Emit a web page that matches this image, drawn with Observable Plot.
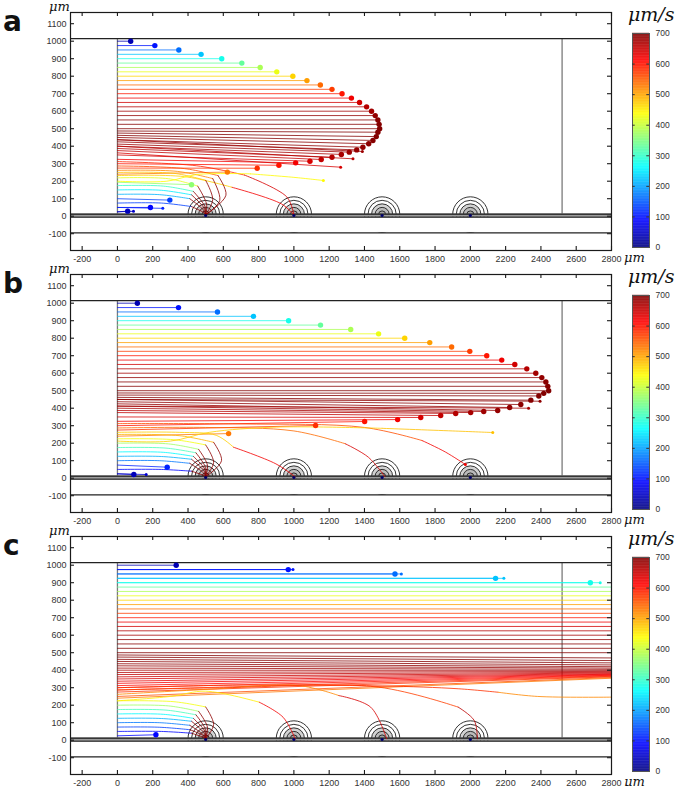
<!DOCTYPE html>
<html><head><meta charset="utf-8">
<script src="https://cdn.jsdelivr.net/npm/d3@7"></script>
<script src="https://cdn.jsdelivr.net/npm/@observablehq/plot@0.6"></script>
<style>
html,body{margin:0;padding:0;background:#fff;}
#root{width:675px;position:relative;}
.panel{position:relative;width:675px;height:262px;}
.panel svg{position:absolute;left:0;top:0;overflow:visible;}
.lbl{position:absolute;font-family:"DejaVu Sans",sans-serif;font-weight:bold;font-size:28px;line-height:1;color:#111;}
.um{position:absolute;font-family:"DejaVu Serif",serif;font-style:italic;font-size:13px;line-height:1;color:#111;white-space:nowrap;}
.ums{position:absolute;font-family:"DejaVu Serif",serif;font-style:italic;font-size:19px;line-height:1;color:#111;white-space:nowrap;}
</style></head><body><div id="root"></div>
<script>
// ---------- axes / labels ----------
const xTicks = [-200,0,200,400,600,800,1000,1200,1400,1600,1800,2000,2200,2400,2600,2800];
const yTicks = [-100,0,100,200,300,400,500,600,700,800,900,1000,1100];
const speedTicks = [0,100,200,300,400,500,600,700];
const panelLetters = ["a","b","c"];
// ---------- geometry of the device ----------
const electrodeX = [500,1000,1500,2000];
const ringR = [100,80,60,40,20];
const ringFill = ["#ffffff","#ffffff","#d2d2d2","#bababa","#a2a2a2"];
const channelTop = 1015, wallTop = 12, wallBottom = -5, lowerLine = -95, outletX = 2520;

// ---------- straight (unperturbed) trajectories, shared start heights ----------
const flatY0 = [1000,975,950,925,900,875,850,825,800,775,750,725,700,675,650,625,600,575,550,525,500];
const flatV  = [35,100,163,222,277,331,380,424,467,504,540,571,598,622,644,663,676,686,693,696,698];
const aFlatXe = [75,212,348,474,591,705,809,903,994,1074,1150,1216,1273,1326,1372,1412,1440,1461,1476,1483,1486];
const bFlatXe = [113,346,567,771,970,1151,1322,1480,1628,1770,1894,1997,2093,2178,2252,2320,2371,2405,2428,2439,2444];
const cFlatXe = [333,968,1573,2143,2680,2800,2800,2800,2800,2800,2800,2800,2800,2800,2800,2800,2800,2800,2800,2800,2800];
const aFlatDot = [2,2,2,2,2,2,2,2,2,2,2,2,2,2,2,2,2,2,2,2,2];
const bFlatDot = [2,2,2,2,2,2,2,2,2,2,2,2,2,2,2,2,2,2,2,2,2];
const cFlatDot = [2,2,2,2,2,0,0,0,0,0,0,0,0,0,0,0,0,0,0,0,0];

// ---------- deflected trajectories (start y, end x, end y, speed, end marker) ----------
const aSlopeY0 = [487,475,462,450,437,425,412,400,387,375,350,325,300,275,240, 437,400,362, 25,25,50,50,100,194];
const aSlopeXe = [1476,1467,1448,1424,1391,1356,1314,1269,1216,1155,1091,1010,915,792,623, 1388,1335,1265, 58,91,187,257,297,420];
const aSlopeYe = [480,455,433,414,394,379,366,353,337,324,314,305,291,274,252, 370,328,280, 29,28,50,45,92,180];
const aSlopeV  = [698,697,695,692,688,684,678,672,664,655,640,620,600,580,530, 680,660,640, 40,50,90,110,130,360];
const aSlopeDot= [2,2,2,2,2,2,2,2,2,2,2,2,2,2,2, 1,1,1, 2,1,2,1,2,2];

const bSlopeY0 = [487,475,462,450,437,425,412,400,387,375,350,325,300,275,240, 450,412, 25,25,75];
const bSlopeXe = [2416,2388,2343,2286,2223,2155,2076,2002,1917,1832,1719,1588,1401,1123,630, 2395,2330, 93,163,282];
const bSlopeYe = [485,470,446,421,404,387,381,375,370,358,347,335,324,301,255, 440,400, 21,21,63];
const bSlopeV  = [698,697,695,692,688,684,678,672,664,655,640,620,600,580,530, 690,675, 40,55,110];
const bSlopeDot= [2,2,2,2,2,2,2,2,2,2,2,2,2,2,2, 1,1, 2,1,2];

const cSlopeY0 = [487,475,462,450,437,425,412,400,387,375,362,350,337,325,312,300,287,275,250,240, 975,950,925,900, 25];
const cSlopeXe = [2800,2800,2800,2800,2800,2800,2800,2800,2800,2800,2800,2800,2800,2800,2800,2800,2800,2800,2800,2800, 995,1609,2190,2736, 218];
const cSlopeYe = [470,455,442,430,420,412,405,399,393,388,384,380,377,374,371,368,365,362,358,354, 975,950,925,900, 31];
const cSlopeV  = [698,697,695,692,688,684,678,672,664,655,648,640,630,620,610,600,590,580,560,530, 100,163,222,277, 90];
const cSlopeDot= [0,0,0,0,0,0,0,0,0,0,0,0,0,0,0,0,0,0,0,0, 1,1,1,1, 2];

// ---------- curved trajectories (x,y waypoints) ----------
const aCurves = [
  [0,75, 250,75, 420,55, 490,20, 500,8],
  [0,125, 240,123, 410,100, 488,35, 500,8],
  [0,150, 250,148, 420,122, 492,45, 500,8],
  [0,175, 260,172, 430,142, 496,55, 500,8],
  [0,219, 290,214, 455,172, 505,70, 500,8],
  [0,250, 320,245, 500,205, 540,95, 500,8],
  [0,262, 340,256, 540,215, 580,90, 500,8],
  [0,287, 380,272, 570,232, 615,120, 500,8],
  [0,312, 450,288, 720,235, 960,110, 1000,8],
  [0,232, 380,226, 650,165, 930,70, 1000,8],
  [0,200, 280,200, 450,238, 754,242, 1000,222, 1167,204]
];
const aCurveV  = [130,210,250,300,420,480,520,560,590,470,440];
const aCurveVe = [690,690,690,690,690,690,690,690,640,620,440];
const aCurveDot= [0,0,0,0,0,0,0,0,0,0,1];

const bCurves = [
  [0,50, 250,50, 420,40, 490,15, 500,8],
  [0,100, 240,100, 410,85, 488,30, 500,8],
  [0,125, 250,124, 420,108, 492,40, 500,8],
  [0,150, 260,148, 430,125, 496,50, 500,8],
  [0,175, 275,172, 445,145, 500,60, 500,8],
  [0,200, 290,196, 460,165, 510,75, 500,8],
  [0,225, 320,220, 500,190, 545,90, 500,8],
  [0,250, 350,243, 545,205, 590,100, 500,8],
  [0,262, 350,262, 560,245, 658,177, 898,82, 1007,8],
  [0,287, 500,290, 1000,270, 1291,197, 1422,120, 1516,8],
  [0,312, 700,310, 1400,290, 1727,215, 1858,150, 1972,78],
  [0,212, 300,212, 520,262, 900,292, 1500,285, 1900,270, 2127,261]
];
const bCurveV  = [90,170,210,260,310,370,430,490,470,540,560,470];
const bCurveVe = [690,690,690,690,690,690,690,690,620,640,620,480];
const bCurveDot= [0,0,0,0,0,0,0,0,0,0,1,1];

const cCurves = [
  [0,50, 250,50, 420,40, 490,15, 500,8],
  [0,75, 240,74, 410,60, 488,25, 500,8],
  [0,100, 240,100, 410,85, 488,30, 500,8],
  [0,125, 250,124, 420,108, 492,40, 500,8],
  [0,150, 260,148, 430,125, 496,50, 500,8],
  [0,175, 275,172, 445,145, 500,60, 500,8],
  [0,200, 290,196, 460,165, 510,75, 500,8],
  [0,225, 320,220, 500,190, 545,90, 500,8],
  [0,225, 300,250, 500,280, 804,217, 939,131, 1007,8],
  [0,262, 500,290, 1029,312, 1255,255, 1435,189, 1526,8],
  [0,287, 600,300, 1481,303, 1931,189, 2022,113, 2040,8],
  [0,300, 700,315, 1500,310, 1931,294, 2157,274, 2382,250, 2800,246]
];
const cCurveV  = [90,130,170,210,260,310,370,430,450,520,570,580];
const cCurveVe = [690,690,690,690,690,690,690,690,620,640,660,520];
const cCurveDot= [0,0,0,0,0,0,0,0,0,0,0,0];

// ---------- jet colour map ----------
const jet = d3.scaleLinear()
  .domain([0,87.5,262.5,437.5,612.5,700])
  .range(["#00007f","#0000ff","#00ffff","#ffff00","#ff0000","#7f0000"])
  .clamp(true);

const panels = [
  {flatXe:aFlatXe, flatDot:aFlatDot, y0:aSlopeY0, xe:aSlopeXe, ye:aSlopeYe, v:aSlopeV, dot:aSlopeDot, curves:aCurves, cv:aCurveV, cve:aCurveVe, cdot:aCurveDot},
  {flatXe:bFlatXe, flatDot:bFlatDot, y0:bSlopeY0, xe:bSlopeXe, ye:bSlopeYe, v:bSlopeV, dot:bSlopeDot, curves:bCurves, cv:bCurveV, cve:bCurveVe, cdot:bCurveDot},
  {flatXe:cFlatXe, flatDot:cFlatDot, y0:cSlopeY0, xe:cSlopeXe, ye:cSlopeYe, v:cSlopeV, dot:cSlopeDot, curves:cCurves, cv:cCurveV, cve:cCurveVe, cdot:cCurveDot}
];

const W = 675, H = 262, ML = 70, MR = 64, MT = 12, MB = 12;
const XD = [-266, 2800], YD = [-196, 1164];
const kx = (W - ML - MR) / (XD[1] - XD[0]);
const ky = (H - MT - MB) / (YD[1] - YD[0]);
const tickUX = 4 / ky, tickUY = 4 / kx;
const BIG = 2.7, SMALL = 1.5;

function drawPanel(p, letter) {
  const straight = [], dots = [], part1 = [], part2 = [];
  flatY0.forEach((y0, i) => {
    const c = jet(flatV[i]);
    straight.push({id: "f" + i, x: 0, y: y0, c}, {id: "f" + i, x: p.flatXe[i], y: y0, c});
    if (p.flatDot[i]) dots.push({x: p.flatXe[i], y: y0, c, r: p.flatDot[i] === 2 ? BIG : SMALL});
  });
  p.y0.forEach((y0, i) => {
    const c = jet(p.v[i]);
    straight.push({id: "s" + i, x: 0, y: y0, c}, {id: "s" + i, x: p.xe[i], y: p.ye[i], c});
    if (p.dot[i]) dots.push({x: p.xe[i], y: p.ye[i], c, r: p.dot[i] === 2 ? BIG : SMALL});
  });
  p.curves.forEach((arr, i) => {
    const pts = [];
    for (let k = 0; k < arr.length; k += 2) pts.push([arr[k], arr[k + 1]]);
    const n = pts.length;
    const c1 = jet(p.cv[i]), c2 = jet(p.cve[i]);
    pts.slice(0, n - 2).forEach(([x, y]) => part1.push({id: "c" + i, x, y, c: c1}));
    pts.slice(n - 3).forEach(([x, y]) => part2.push({id: "c" + i, x, y, c: c2}));
    if (p.cdot[i]) dots.push({x: pts[n - 1][0], y: pts[n - 1][1], c: c2, r: p.cdot[i] === 2 ? BIG : SMALL});
  });
  const rings = [];
  electrodeX.forEach(ex => ringR.forEach((r, j) => rings.push({x: ex, r: r * kx, f: ringFill[j]})));

  const svg = Plot.plot({
    width: W, height: H, marginLeft: ML, marginRight: MR, marginTop: MT, marginBottom: MB,
    x: {domain: XD, axis: null},
    y: {domain: YD, axis: null},
    r: {type: "identity"},
    style: {fontFamily: "'Liberation Sans', Arial, sans-serif", background: "transparent"},
    marks: [
      Plot.ruleX([0, outletX], {y1: () => wallTop, y2: () => channelTop, stroke: "#7a7a7a", strokeWidth: 1.3}),
      Plot.dot(rings, {x: "x", y: () => wallTop - 2, r: "r", fill: "f", stroke: "#1e1e1e", strokeWidth: 0.9}),
      Plot.rect([0], {x1: () => XD[0], x2: () => XD[1], y1: () => lowerLine + 2, y2: () => wallBottom, fill: "#fff"}),
      Plot.rect([0], {x1: () => XD[0], x2: () => XD[1], y1: () => wallBottom, y2: () => wallTop, fill: "#9c9c9c"}),
      Plot.ruleY([wallTop, wallBottom], {stroke: "#151515", strokeWidth: 1.4}),
      Plot.ruleY([channelTop, lowerLine], {stroke: "#222", strokeWidth: 1.1}),
      Plot.line(straight, {x: "x", y: "y", z: "id", stroke: "c", strokeWidth: 0.95, strokeOpacity: 0.82, clip: true}),
      Plot.line(part1, {x: "x", y: "y", z: "id", stroke: "c", strokeWidth: 0.95, strokeOpacity: 0.85, curve: "catmull-rom", clip: true}),
      Plot.line(part2, {x: "x", y: "y", z: "id", stroke: "c", strokeWidth: 0.95, strokeOpacity: 0.85, curve: "catmull-rom", clip: true}),
      Plot.dot(dots, {x: "x", y: "y", r: "r", fill: "c", clip: true}),
      Plot.dot(electrodeX, {x: d => d, y: () => 4, r: () => 1.6, fill: "#00006a"}),
      Plot.frame({stroke: "#1a1a1a", strokeWidth: 1.2}),
      Plot.ruleX(xTicks, {y1: () => YD[1], y2: () => YD[1] - tickUX, stroke: "#1a1a1a", strokeWidth: 1.1}),
      Plot.ruleX(xTicks, {y1: () => YD[0], y2: () => YD[0] + tickUX, stroke: "#1a1a1a", strokeWidth: 1.1}),
      Plot.ruleY(yTicks, {x1: () => XD[0], x2: () => XD[0] + tickUY, stroke: "#1a1a1a", strokeWidth: 1.1}),
      Plot.ruleY(yTicks, {x1: () => XD[1], x2: () => XD[1] - tickUY, stroke: "#1a1a1a", strokeWidth: 1.1}),
      Plot.text(xTicks, {x: d => d, y: () => YD[0], dy: 9, text: d => String(d), fontSize: 9, fill: "#333"}),
      Plot.text(yTicks, {x: () => XD[0], y: d => d, dx: -4, textAnchor: "end", text: d => String(d), fontSize: 9, fill: "#333"})
    ]
  });

  const cb = Plot.plot({
    width: 60, height: H, marginTop: 33, marginBottom: 15, marginLeft: 2, marginRight: 41,
    x: {domain: [0, 1], axis: null},
    y: {domain: [0, 700], axis: null},
    style: {fontFamily: "'Liberation Sans', Arial, sans-serif", background: "transparent"},
    marks: [
      Plot.rect(d3.range(0, 700, 2), {x1: () => 0, x2: () => 1, y1: d => d, y2: d => d + 2.6, fill: d => jet(d + 1)}),
      Plot.frame({stroke: "#555", strokeWidth: 1}),
      Plot.ruleY(speedTicks.slice(1, -1), {x1: () => 0, x2: () => 0.16, stroke: "#333"}),
      Plot.ruleY(speedTicks.slice(1, -1), {x1: () => 0.84, x2: () => 1, stroke: "#333"}),
      Plot.text(speedTicks, {x: () => 1, y: d => d, dx: 6, textAnchor: "start", text: d => String(d), fontSize: 8.5, fill: "#333"})
    ]
  });

  const div = document.createElement("div");
  div.className = "panel";
  div.appendChild(svg);
  cb.style.left = "630px";
  div.appendChild(cb);
  const add = (cls, txt, left, top) => {
    const e = document.createElement("div");
    e.className = cls; e.textContent = txt;
    e.style.left = left + "px"; e.style.top = top + "px";
    div.appendChild(e);
  };
  add("lbl", letter, 3, 8);
  add("um", "μm", 49, 0);
  add("um", "μm", 624, 251);
  add("ums", "μm/s", 628, 5);
  return div;
}

const root = document.getElementById("root");
panels.forEach((p, i) => root.appendChild(drawPanel(p, panelLetters[i])));
</script></body></html>
